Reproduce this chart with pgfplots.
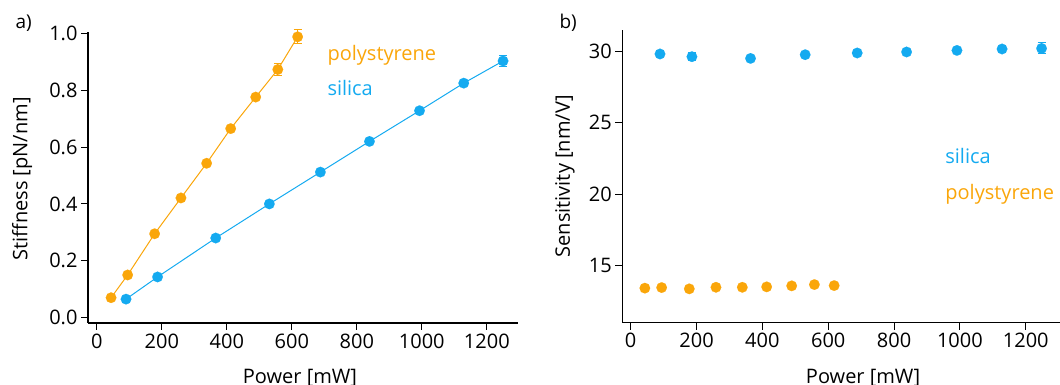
\documentclass[border=0pt]{standalone}
\usepackage{pgfplots}
\pgfplotsset{compat=1.18}
\usepackage{fontspec}
\setmainfont{Open Sans}
\definecolor{ps}{RGB}{250,166,10}
\definecolor{si}{RGB}{20,170,240}
\begin{document}
\begin{tikzpicture}[x=1pt,y=1pt]
\pgfplotsset{
  myax/.style={
    scale only axis,
    axis lines=left,
    axis line style={-, line width=1.1pt},
    tick align=outside,
    major tick length=7pt,
    tick style={line width=1.1pt, black},
    font=\fontsize{20}{24}\selectfont,
    tick label style={font=\fontsize{20}{24}\selectfont},
    label style={font=\fontsize{20}{24}\selectfont},
    /pgf/number format/assume math mode=true,
    /pgf/number format/1000 sep={},
    xtick={0,200,...,1200},
    clip=false,
  },
  ebar/.style={
    only marks, mark=none, forget plot,
    error bars/.cd, y dir=both, y explicit,
    error bar style={line width=1pt, draw=#1},
    error mark options={rotate=90, mark size=4pt, line width=1pt, draw=#1},
  },
  dots/.style={color=#1, mark=*, mark size=5.3pt, mark options={fill=#1, draw=#1, line width=0.1pt}},
}
% ---------- panel a ----------
\begin{axis}[myax,
  at={(88pt,62pt)}, anchor=south west,
  width=430pt, height=291pt,
  xmin=-27, xmax=1296, ymin=-0.019, ymax=1.005,
  ytick={0,0.2,0.4,0.6,0.8,1.0},
  yticklabel style={/pgf/number format/.cd, fixed, fixed zerofill, precision=1},
  xlabel={Power [mW]},
  ylabel={Stiffness [pN/nm]},
  xlabel style={at={(axis description cs:0.493,-0.208)}, anchor=base},
  ylabel style={at={(axis description cs:-0.153,0.495)}, anchor=center},
]
\addplot[ebar=ps] coordinates {
  (557,0.873) +- (0,0.020)
  (618,0.988) +- (0,0.025)
};
\addplot[ebar=si] coordinates {
  (1250,0.903) +- (0,0.020)
};
\addplot[line width=1pt, dots=ps] coordinates {
  (44,0.070) (95,0.150) (178,0.295) (259,0.421) (338,0.543)
  (412,0.665) (489,0.776) (557,0.873) (618,0.988)
};
\addplot[line width=1pt, dots=si] coordinates {
  (90,0.065) (187,0.143) (366,0.280) (531,0.400) (688,0.512)
  (839,0.620) (993,0.728) (1129,0.825) (1250,0.903)
};
\node[anchor=base west, text=ps, font=\fontsize{20}{24}\selectfont] at (axis cs:699,0.904) {polystyrene};
\node[anchor=base west, text=si, font=\fontsize{20}{24}\selectfont] at (axis cs:699,0.780) {silica};
\end{axis}
% ---------- panel b ----------
\begin{axis}[myax,
  at={(622.3pt,62.3pt)}, anchor=south west,
  width=437.7pt, height=292.7pt,
  xmin=-25.5, xmax=1304, ymin=11.0, ymax=31.5,
  ytick={15,20,25,30},
  xlabel={Power [mW]},
  ylabel={Sensitivity [nm/V]},
  xlabel style={at={(axis description cs:0.55,-0.208)}, anchor=base},
  ylabel style={at={(axis description cs:-0.131,0.5)}, anchor=center},
]
\addplot[ebar=si] coordinates {
  (89,29.82) +- (0,0.18)
  (186,29.63) +- (0,0.28)
  (1248,30.21) +- (0,0.38)
};
\addplot[only marks, dots=si] coordinates {
  (89,29.82) (186,29.63) (364,29.51) (530,29.77) (688,29.89)
  (838,29.96) (991,30.07) (1128,30.17) (1248,30.21)
};
\addplot[only marks, dots=ps] coordinates {
  (43,13.42) (94,13.46) (178,13.37) (259,13.48) (339,13.48)
  (413,13.51) (489,13.58) (558,13.67) (618,13.60)
};
\node[anchor=base west, text=si, font=\fontsize{20}{24}\selectfont] at (axis cs:945,22.18) {silica};
\node[anchor=base west, text=ps, font=\fontsize{20}{24}\selectfont] at (axis cs:945,19.61) {polystyrene};
\end{axis}
\node[anchor=base west, font=\fontsize{19}{23}\selectfont] at (12pt,356pt) {a)};
\node[anchor=base west, font=\fontsize{19}{23}\selectfont] at (556pt,356pt) {b)};
\pgfresetboundingbox
\useasboundingbox (0pt,0pt) rectangle (1060pt,385pt);
\end{tikzpicture}
\end{document}
